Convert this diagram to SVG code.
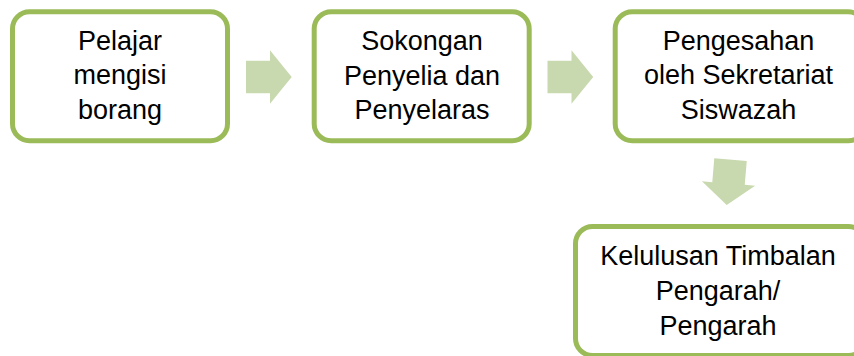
<svg xmlns="http://www.w3.org/2000/svg" width="854" height="356" viewBox="0 0 854 356">
<defs>
<style>
.box{fill:#ffffff;stroke:#9bbb59;stroke-width:5}
.arr{fill:#c9d9af}
.t{font-family:"Liberation Sans",Arial,sans-serif;font-size:27px;fill:#000;text-anchor:middle}
</style>
<path id="arrow" d="M-23,-16.3 H1 V-26.7 L22.7,0 L1,26.7 V16.3 H-23 Z"/>
</defs>
<rect width="854" height="356" fill="#ffffff"/>
<g id="connectors">
<use href="#arrow" class="arr" transform="translate(269,77)"/>
<use href="#arrow" class="arr" transform="translate(570.5,77)"/>
<use href="#arrow" class="arr" transform="translate(728.6,182.5) rotate(94.8)"/>
</g>
<g id="node1">
<rect class="box" x="12.5" y="11.8" width="215" height="129" rx="17"/>
<text class="t" x="120" y="50">Pelajar</text>
<text class="t" x="120" y="84.3">mengisi</text>
<text class="t" x="120" y="118.6">borang</text>
</g>
<g id="node2">
<rect class="box" x="314.2" y="11.8" width="215" height="129" rx="17"/>
<text class="t" x="422" y="50">Sokongan</text>
<text class="t" x="422" y="84.6">Penyelia dan</text>
<text class="t" x="422" y="119.2">Penyelaras</text>
</g>
<g id="node3">
<rect class="box" x="615.2" y="11.8" width="250" height="129" rx="17"/>
<text class="t" x="738.5" y="50">Pengesahan</text>
<text class="t" x="738.5" y="84.3">oleh Sekretariat</text>
<text class="t" x="738.5" y="118.6">Siswazah</text>
</g>
<g id="node4">
<rect class="box" x="575.5" y="226.5" width="290" height="129" rx="17"/>
<text class="t" x="718" y="265">Kelulusan Timbalan</text>
<text class="t" x="718" y="300">Pengarah/</text>
<text class="t" x="718" y="335">Pengarah</text>
</g>
</svg>
